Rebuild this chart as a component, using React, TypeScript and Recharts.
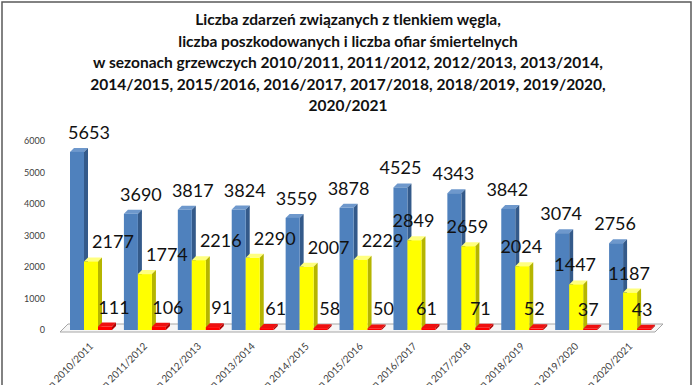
import React from "react";
import { BarChart, Bar, XAxis, YAxis, LabelList } from "recharts";

const seasons = [
  "sezon 2010/2011",
  "sezon 2011/2012",
  "sezon 2012/2013",
  "sezon 2013/2014",
  "sezon 2014/2015",
  "sezon 2015/2016",
  "sezon 2016/2017",
  "sezon 2017/2018",
  "sezon 2018/2019",
  "sezon 2019/2020",
  "sezon 2020/2021",
];
const zdarzenia = [5653, 3690, 3817, 3824, 3559, 3878, 4525, 4343, 3842, 3074, 2756];
const poszkodowani = [2177, 1774, 2216, 2290, 2007, 2229, 2849, 2659, 2024, 1447, 1187];
const ofiary = [111, 106, 91, 61, 58, 50, 61, 71, 52, 37, 43];
const yTicks = [0, 1000, 2000, 3000, 4000, 5000, 6000];

const titleLines = [
  "Liczba zdarzeń związanych z tlenkiem węgla,",
  "liczba poszkodowanych i liczba ofiar śmiertelnych",
  "w sezonach grzewczych 2010/2011, 2011/2012, 2012/2013, 2013/2014,",
  "2014/2015, 2015/2016, 2016/2017, 2017/2018, 2018/2019, 2019/2020,",
  "2020/2021",
];

const data = seasons.map((s, i) => ({
  season: s,
  zdarzenia: zdarzenia[i],
  poszkodowani: poszkodowani[i],
  ofiary: ofiary[i],
}));

const W = 696;
const H = 385;
const LEFT = 64;
const RIGHT = 39;
const TOP = 141;
const XH = 55;
const DEPTH = 4;
const FONT = "Lato, 'Open Sans', sans-serif";

function make3D(front: string, side: string, top: string) {
  return (props: any) => {
    const { x, y, width, height } = props;
    if (width == null || height == null) return null;
    const h = Math.max(height, 0);
    const d = DEPTH;
    return (
      <g>
        <polygon
          points={`${x},${y} ${x + d},${y - d} ${x + width + d},${y - d} ${x + width},${y}`}
          fill={top}
        />
        <polygon
          points={`${x + width},${y} ${x + width + d},${y - d} ${x + width + d},${y + h - d} ${x + width},${y + h}`}
          fill={side}
        />
        <rect x={x} y={y} width={width} height={h} fill={front} />
      </g>
    );
  };
}

// label nudges (Excel 3D perspective pushes left-hand labels to the right)
function makeLabel(shift: (i: number) => number) {
  return (props: any) => {
    const { x, y, width, value, index } = props;
    return (
      <text
        x={x + width / 2 + shift(index)}
        y={y - 13}
        textAnchor="middle"
        fontSize={18}
        fontFamily={FONT}
        fill="#111"
      >
        {value}
      </text>
    );
  };
}

const YTick = (props: any) => {
  const { x, y, payload } = props;
  return (
    <text x={x} y={y + 3} textAnchor="end" fontSize={9} fontFamily={FONT} fill="#404040">
      {payload.value}
    </text>
  );
};

const XTick = (props: any) => {
  const { x, y, payload } = props;
  return (
    <g transform={`translate(${x + 3},${y + 9})`}>
      <text transform="rotate(-45)" textAnchor="end" fontSize={10} fontFamily={FONT} fill="#404040">
        {payload.value}
      </text>
    </g>
  );
};

export default function App() {
  const plotRight = W - RIGHT;
  const base = H - XH;
  return (
    <div style={{ position: "absolute", left: 0, top: 0, width: W, height: H, background: "#fff" }}>
      <svg width={W} height={H} style={{ position: "absolute", left: 0, top: 0 }}>
        <rect x={2} y={2} width={689} height={400} fill="#fff" stroke="#595959" strokeWidth={1.5} />
        {titleLines.map((t, i) => (
          <text
            key={i}
            x={348}
            y={25 + i * 21.5}
            textAnchor="middle"
            fontSize={15.5}
            fontWeight="bold"
            fontFamily={FONT}
            fill="#111"
          >
            {t}
          </text>
        ))}
        <polygon
          points={`${LEFT - 4},${base + 2} ${LEFT + 4},${base - 6} ${plotRight + 6},${base - 6} ${plotRight - 2},${base + 2}`}
          fill="#f6f6f6"
          stroke="#a6a6a6"
          strokeWidth={1}
        />
      </svg>
      <div style={{ position: "absolute", left: 0, top: 0 }}>
        <BarChart
          width={W}
          height={H}
          data={data}
          margin={{ top: TOP, right: RIGHT, bottom: 0, left: 0 }}
          barSize={14}
          barGap={0}
        >
          <XAxis
            dataKey="season"
            height={XH}
            axisLine={false}
            tickLine={false}
            interval={0}
            tick={<XTick />}
          />
          <YAxis
            width={LEFT}
            domain={[0, 6000]}
            ticks={yTicks}
            axisLine={false}
            tickLine={false}
            tickMargin={13}
            tick={<YTick />}
          />
          <Bar dataKey="zdarzenia" isAnimationActive={false} shape={make3D("#4f81bd", "#345a8a", "#6e98cc")}>
            <LabelList dataKey="zdarzenia" content={makeLabel((i) => Math.max(-1, 2 * (6 - i)))} />
          </Bar>
          <Bar dataKey="poszkodowani" isAnimationActive={false} shape={make3D("#ffff00", "#b5b500", "#ffff80")}>
            <LabelList dataKey="poszkodowani" content={makeLabel((i) => (i <= 5 ? 22 : -1))} />
          </Bar>
          <Bar dataKey="ofiary" isAnimationActive={false} shape={make3D("#ff0000", "#b00000", "#ee1010")}>
            <LabelList dataKey="ofiary" content={makeLabel((i) => (i <= 5 ? 9 : -2))} />
          </Bar>
        </BarChart>
      </div>
    </div>
  );
}
